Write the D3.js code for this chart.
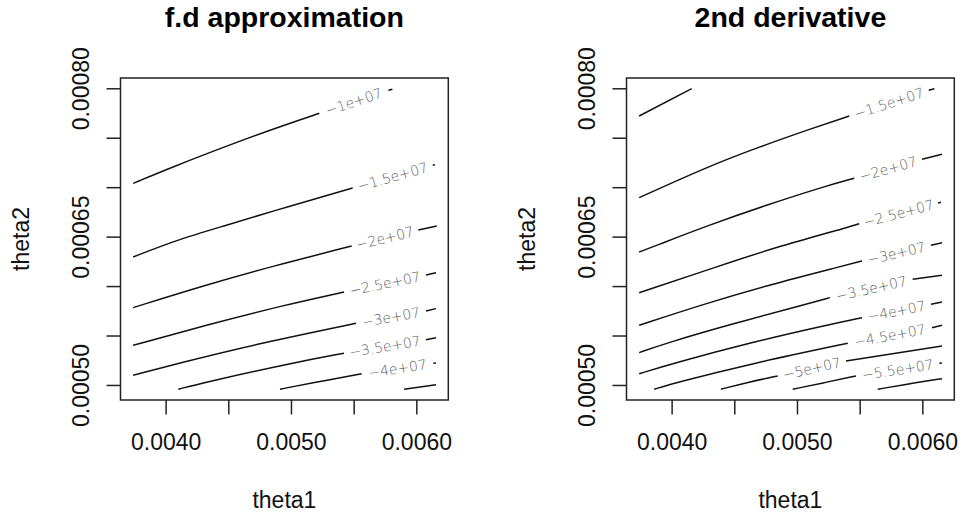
<!DOCTYPE html>
<html>
<head>
<meta charset="utf-8">
<script src="https://cdn.jsdelivr.net/npm/d3@7"></script>
<style>
  html, body { margin: 0; padding: 0; background: #fff; }
  svg { display: block; }
</style>
</head>
<body>
<script>
// ---------------- data ----------------
const panelTitles = ["f.d approximation", "2nd derivative"];
const xAxisTitle = "theta1";
const yAxisTitle = "theta2";

const theta1Domain = [0.003640, 0.006255];
const theta2Domain = [0.0004848, 0.0008104];

const theta1Ticks = [0.0040, 0.0045, 0.0050, 0.0055, 0.0060];
const theta1TickLabels = ["0.0040", "", "0.0050", "", "0.0060"];
const theta2Ticks = [0.00050, 0.00055, 0.00060, 0.00065, 0.00070, 0.00075, 0.00080];
const theta2TickLabels = ["0.00050", "", "", "0.00065", "", "", "0.00080"];

// finite-difference approximation: contour levels, polylines [theta1, theta2], label gap index (-1 = no label)
const fdLevels = [-1e7, -1.5e7, -2e7, -2.5e7, -3e7, -3.5e7, -4e7, -4.5e7];
const fdGaps = [4, 4, 3, 3, 3, 3, 2, -1];
const fdLines = [
  [[0.003741,0.0007039],[0.004074,0.0007214],[0.004468,0.0007407],[0.004886,0.0007602],[0.005226,0.0007747],[0.005777,0.0007980],[0.005809,0.0007990]],
  [[0.003741,0.0006294],[0.004088,0.0006466],[0.004447,0.0006601],[0.004992,0.0006810],[0.005492,0.0006992],[0.006131,0.0007221],[0.006149,0.0007228]],
  [[0.003741,0.0005782],[0.004314,0.0006008],[0.004859,0.0006203],[0.005484,0.0006405],[0.006016,0.0006567],[0.006163,0.0006608]],
  [[0.003741,0.0005401],[0.004327,0.0005607],[0.004952,0.0005809],[0.005423,0.0005940],[0.006077,0.0006112],[0.006157,0.0006135]],
  [[0.003741,0.0005098],[0.004101,0.0005219],[0.004739,0.0005418],[0.005519,0.0005624],[0.006077,0.0005748],[0.006157,0.0005772]],
  [[0.004101,0.0004957],[0.004300,0.0005023],[0.005018,0.0005225],[0.005423,0.0005321],[0.006077,0.0005458],[0.006157,0.0005478]],
  [[0.004912,0.0004957],[0.005178,0.0005023],[0.005564,0.0005114],[0.006136,0.0005219],[0.006157,0.0005222]],
  [[0.005902,0.0004957],[0.006157,0.0005003]]
];

// 2nd derivative
const sdLevels = [-1e7, -1.5e7, -2e7, -2.5e7, -3e7, -3.5e7, -4e7, -4.5e7, -5e7, -5.5e7, -6e7];
const sdGaps = [-1, 4, 5, 4, 4, 4, 4, 3, 2, 2, -1];
const sdLines = [
  [[0.003741,0.0007720],[0.004160,0.0007996]],
  [[0.003741,0.0006894],[0.004300,0.0007214],[0.004699,0.0007407],[0.005138,0.0007602],[0.005417,0.0007720],[0.006051,0.0007980],[0.006096,0.0007996]],
  [[0.003741,0.0006345],[0.003853,0.0006398],[0.004279,0.0006608],[0.004758,0.0006820],[0.005231,0.0007012],[0.005457,0.0007090],[0.005998,0.0007282],[0.006157,0.0007333]],
  [[0.003741,0.0005933],[0.004380,0.0006203],[0.004859,0.0006405],[0.005445,0.0006608],[0.005497,0.0006631],[0.006125,0.0006840],[0.006149,0.0006847]],
  [[0.003741,0.0005604],[0.004252,0.0005816],[0.004766,0.0006008],[0.005365,0.0006203],[0.005519,0.0006254],[0.006069,0.0006413],[0.006157,0.0006439]],
  [[0.003741,0.0005327],[0.003955,0.0005422],[0.004473,0.0005614],[0.005072,0.0005816],[0.005263,0.0005883],[0.005923,0.0006069],[0.006157,0.0006109]],
  [[0.003741,0.0005114],[0.004034,0.0005225],[0.004607,0.0005422],[0.005271,0.0005614],[0.005519,0.0005680],[0.006069,0.0005816],[0.006157,0.0005839]],
  [[0.003861,0.0004957],[0.004034,0.0005023],[0.004646,0.0005219],[0.005405,0.0005422],[0.006077,0.0005579],[0.006157,0.0005604]],
  [[0.004393,0.0004957],[0.004593,0.0005023],[0.004846,0.0005091],[0.005391,0.0005243],[0.006157,0.0005394]],
  [[0.004966,0.0004957],[0.005218,0.0005023],[0.005471,0.0005091],[0.006136,0.0005219],[0.006157,0.0005222]],
  [[0.005644,0.0004957],[0.005950,0.0005023],[0.006157,0.0005064]]
];

// ---------------- drawing ----------------
const W = 964, H = 516;
const mainFont = "'Liberation Sans', Arial, Helvetica, sans-serif";
const labelFont = "'DejaVu Sans', sans-serif";

function fmtLevel(v) {
  const m = v / 1e7;
  return (m < 0 ? "\u2212" : "") + Math.abs(m) + "e+07";
}

const svg = d3.select("body").append("svg")
  .attr("width", W).attr("height", H)
  .attr("viewBox", `0 0 ${W} ${H}`);
svg.append("rect").attr("width", W).attr("height", H).attr("fill", "#fff");

const panels = [
  { title: panelTitles[0], levels: fdLevels, gaps: fdGaps, lines: fdLines, dx: 0 },
  { title: panelTitles[1], levels: sdLevels, gaps: sdGaps, lines: sdLines, dx: 506 }
];

const box = { left: 120.5, right: 448.3, top: 78, bottom: 400 };

panels.forEach(p => {
  const g = svg.append("g").attr("transform", `translate(${p.dx},0)`);
  const x = d3.scaleLinear().domain(theta1Domain).range([box.left, box.right]);
  const y = d3.scaleLinear().domain(theta2Domain).range([box.bottom, box.top]);

  // contours
  const line = d3.line().x(d => x(d[0])).y(d => y(d[1])).curve(d3.curveBasis);
  const cg = g.append("g");
  p.lines.forEach((pts, i) => {
    const gi = p.gaps[i];
    const parts = gi < 0 ? [pts] : [pts.slice(0, gi + 1), pts.slice(gi + 1)];
    parts.forEach(seg => {
      if (seg.length < 2) return;
      cg.append("path").attr("d", line(seg))
        .attr("fill", "none").attr("stroke", "#111")
        .attr("stroke-width", 1.5).attr("stroke-linejoin", "round");
    });
    if (gi >= 0) {
      const a = [x(pts[gi][0]), y(pts[gi][1])];
      const b = [x(pts[gi + 1][0]), y(pts[gi + 1][1])];
      const ang = Math.atan2(b[1] - a[1], b[0] - a[0]) * 180 / Math.PI;
      cg.append("text")
        .attr("transform", `translate(${(a[0] + b[0]) / 2},${(a[1] + b[1]) / 2}) rotate(${ang})`)
        .attr("text-anchor", "middle")
        .attr("dominant-baseline", "central")
        .attr("font-family", labelFont)
        .attr("font-weight", 200)
        .attr("font-size", 14)
        .attr("fill", "#5e5e5e")
        .text(fmtLevel(p.levels[i]));
    }
  });

  // box
  g.append("rect")
    .attr("x", box.left).attr("y", box.top)
    .attr("width", box.right - box.left).attr("height", box.bottom - box.top)
    .attr("fill", "none").attr("stroke", "#222").attr("stroke-width", 1.5);

  // x axis
  const xa = g.append("g").attr("transform", `translate(0,${box.bottom})`)
    .call(d3.axisBottom(x).tickValues(theta1Ticks).tickSize(14.5)
      .tickFormat((d, i) => theta1TickLabels[i]));
  xa.select(".domain").remove();
  xa.selectAll("line").attr("stroke", "#222").attr("stroke-width", 1.5);
  xa.selectAll("text").attr("y", 50).attr("dy", null)
    .attr("font-family", mainFont).attr("font-size", 23).attr("fill", "#111");

  // y axis
  const ya = g.append("g").attr("transform", `translate(${box.left},0)`)
    .call(d3.axisLeft(y).tickValues(theta2Ticks).tickSize(14)
      .tickFormat((d, i) => theta2TickLabels[i]));
  ya.select(".domain").remove();
  ya.selectAll("line").attr("stroke", "#222").attr("stroke-width", 1.5);
  ya.selectAll("text")
    .attr("x", null).attr("dy", null)
    .attr("transform", "translate(-32,0) rotate(-90)")
    .attr("text-anchor", "middle")
    .attr("font-family", mainFont).attr("font-size", 23).attr("fill", "#111");

  // titles
  const cx = (box.left + box.right) / 2;
  g.append("text").attr("x", cx).attr("y", 27)
    .attr("text-anchor", "middle")
    .attr("font-family", mainFont).attr("font-weight", "bold")
    .attr("font-size", 28.5).attr("fill", "#000")
    .text(p.title);
  g.append("text").attr("x", cx).attr("y", 508)
    .attr("text-anchor", "middle")
    .attr("font-family", mainFont).attr("font-size", 23).attr("fill", "#111")
    .text(xAxisTitle);
  g.append("text")
    .attr("transform", `translate(${box.left - 91.5},${(box.top + box.bottom) / 2}) rotate(-90)`)
    .attr("text-anchor", "middle")
    .attr("font-family", mainFont).attr("font-size", 23).attr("fill", "#111")
    .text(yAxisTitle);
});
</script>
</body>
</html>
